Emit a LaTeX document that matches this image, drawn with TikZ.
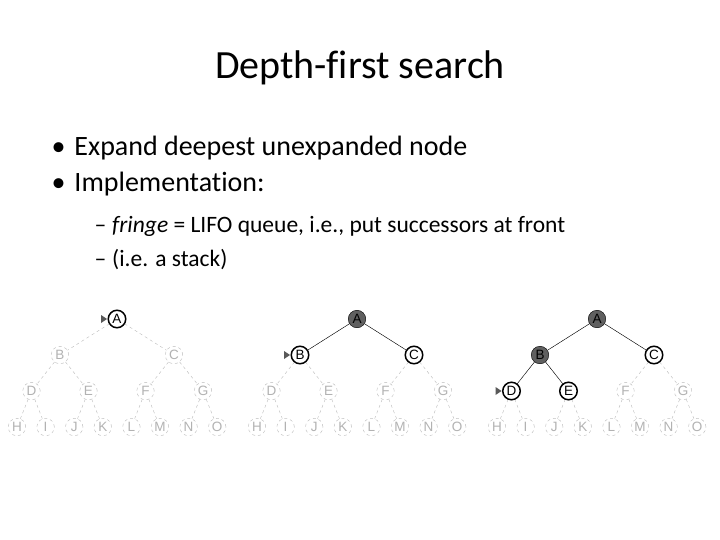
\documentclass[tikz,border=0pt]{standalone}
\usepackage{fontspec}
\setmainfont[Ligatures=NoCommon]{Carlito}
\newfontfamily\nodefont{Liberation Sans}
\usetikzlibrary{calc}
\tikzset{
  leaf/.style={circle,draw=gray!55,dashed,fill=white,text=gray!60,minimum size=17.5pt,inner sep=0pt,font=\nodefont\fontsize{13.5}{14}\selectfont},
  front/.style={leaf,solid,draw=black,line width=1.5pt,text=black},
  done/.style={leaf,solid,draw=black,thin,fill=gray!75!black,text=black},
  gedge/.style={gray!55,dashed},
  bedge/.style={black,thin},
  marker/.style={fill=gray!70!black}
}
\newcommand{\pointat}[1]{\fill[marker] ($(#1.west)+(-1,0)$) -- ++(-6,4) -- ++(0,-8) -- cycle;}
\begin{document}
\begin{tikzpicture}[x=1pt,y=-1pt]
  \useasboundingbox (0,0) rectangle (720,540);
  \node at (360,68) {\fontsize{40}{44}\selectfont Depth-first search}; % title
  \node[anchor=west] (b1) at (48,148) {\fontsize{28}{32}\selectfont\textbullet\hspace{9pt}Expand deepest unexpanded node};
  \node[anchor=west] (b2) at (48,184) {\fontsize{28}{32}\selectfont\textbullet\hspace{9pt}Implementation:};
  \node[anchor=west] (s1) at (91,226) {\fontsize{23.5}{26}\selectfont --\hspace{6pt}\textit{fringe} = LIFO queue, i.e., put successors at front};
  \node[anchor=west] (s2) at (91,260) {\fontsize{23.5}{26}\selectfont --\hspace{6pt}(i.e. a stack)};
  % three trees
  \foreach \t/\o in {1/0,2/240,3/480} {
    \foreach \n/\x/\y in {A/117/319,B/60/355,C/174/355,D/31.5/391,E/88.5/391,F/145.5/391,G/203/391,
      H/17/427,I/45.6/427,J/74.2/427,K/102.8/427,L/131.4/427,M/160/427,N/188.6/427,O/217.2/427}
      \node[leaf] (\n\t) at (\x+\o,\y) {\n};
    \foreach \p/\c in {A/B,A/C,B/D,B/E,C/F,C/G,D/H,D/I,E/J,E/K,F/L,F/M,G/N,G/O}
      \draw[gedge] (\p\t) -- (\c\t);
  }
  % tree 1
  \node[front] at (A1) {A};
  \pointat{A1}
  % tree 2
  \draw[bedge] (A2) -- (B2) (A2) -- (C2);
  \node[done] at (A2) {A};
  \node[front] at (B2) {B};
  \node[front] at (C2) {C};
  \pointat{B2}
  % tree 3
  \draw[bedge] (A3) -- (B3) (A3) -- (C3) (B3) -- (D3) (B3) -- (E3);
  \node[done] at (A3) {A};
  \node[done] at (B3) {B};
  \node[front] at (C3) {C};
  \node[front] at (D3) {D};
  \node[front] at (E3) {E};
  \pointat{D3}
\end{tikzpicture}
\end{document}
